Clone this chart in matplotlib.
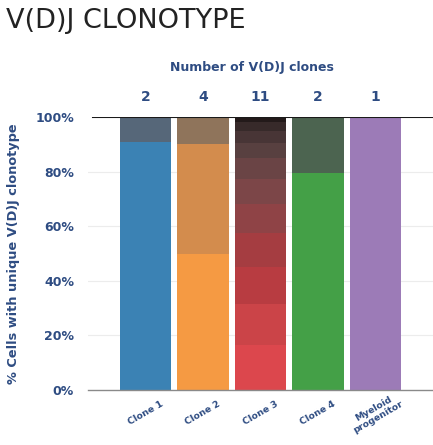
import matplotlib
matplotlib.use("Agg")
import matplotlib.pyplot as plt
from matplotlib.transforms import blended_transform_factory

# ---- data ----
categories = ["Clone 1", "Clone 2", "Clone 3", "Clone 4", "Myeloid\nprogenitor"]
clone_counts = ["2", "4", "11", "2", "1"]
# stacked segment percentages, bottom -> top
segments = [
    [91.0, 9.0],
    [50.0, 40.0, 10.0],
    [16.5, 14.9, 13.8, 12.2, 10.7, 9.2, 7.6, 5.7, 4.4, 3.3, 1.7],
    [79.5, 20.5],
    [100.0],
]
segment_colors = [
    ["#3b82b4", "#566779"],
    ["#f59a43", "#d38c4d", "#8f745b"],
    ["#dc474d", "#cb4448", "#b83c41", "#a53d41", "#8f4346", "#7c4648",
     "#6a4445", "#584040", "#483536", "#372a2a", "#231a1a"],
    ["#44a047", "#4c6450"],
    ["#9c7bb7"],
]
yticks = [0, 20, 40, 60, 80, 100]
ytick_labels = ["0%", "20%", "40%", "60%", "80%", "100%"]

navy = "#2e4c82"

fig = plt.figure(figsize=(4.33, 4.45), dpi=100)
ax = fig.add_axes([88 / 433, 1 - 390 / 445, 1 - 88 / 433, 273 / 445])

for i, (vals, cols) in enumerate(zip(segments, segment_colors)):
    bottom = 0
    for v, c in zip(vals, cols):
        ax.bar(i, v, bottom=bottom, width=0.89, color=c, edgecolor="none", zorder=2)
        bottom += v

ax.set_xlim(-1, 5)
ax.set_ylim(0, 100)
ax.set_yticks(yticks)
ax.set_yticklabels(ytick_labels, color=navy, fontsize=9, fontweight="bold")
ax.tick_params(axis="y", length=0, pad=10)
ax.set_xticks([])
for y in yticks[1:-1]:
    ax.axhline(y, color="#ececec", lw=0.8, zorder=1)
ax.axhline(100, xmin=0.015, color="#1a1a1a", lw=1.5, zorder=3)

for s in ["left", "right", "top"]:
    ax.spines[s].set_visible(False)
ax.spines["bottom"].set_color("#8a8a8a")
ax.spines["bottom"].set_linewidth(1.0)

ax.set_ylabel("% Cells with unique V(D)J clonotype", color=navy, fontsize=9.3,
              fontweight="bold")
ax.yaxis.set_label_coords(-0.198, 0.5)

trans = blended_transform_factory(ax.transData, ax.transAxes)
for i, (lab, cnt) in enumerate(zip(categories, clone_counts)):
    ax.text(i, -0.085, lab, transform=trans, rotation=30, ha="center", va="center",
            multialignment="center", color=navy, fontsize=6.7, fontweight="bold",
            linespacing=1.0)
    ax.text(i, 1.073, cnt, transform=trans, ha="center", va="center",
            color=navy, fontsize=10, fontweight="bold")

fig.text(252 / 433, 1 - 68 / 445, "Number of V(D)J clones", ha="center", va="center",
         color=navy, fontsize=9, fontweight="bold")

fig.text(6 / 433, 1 - 21 / 445, "V(D)J CLONOTYPE", ha="left", va="center",
         color="#222222", fontsize=19.5)

fig.savefig("out.png", dpi=100)
